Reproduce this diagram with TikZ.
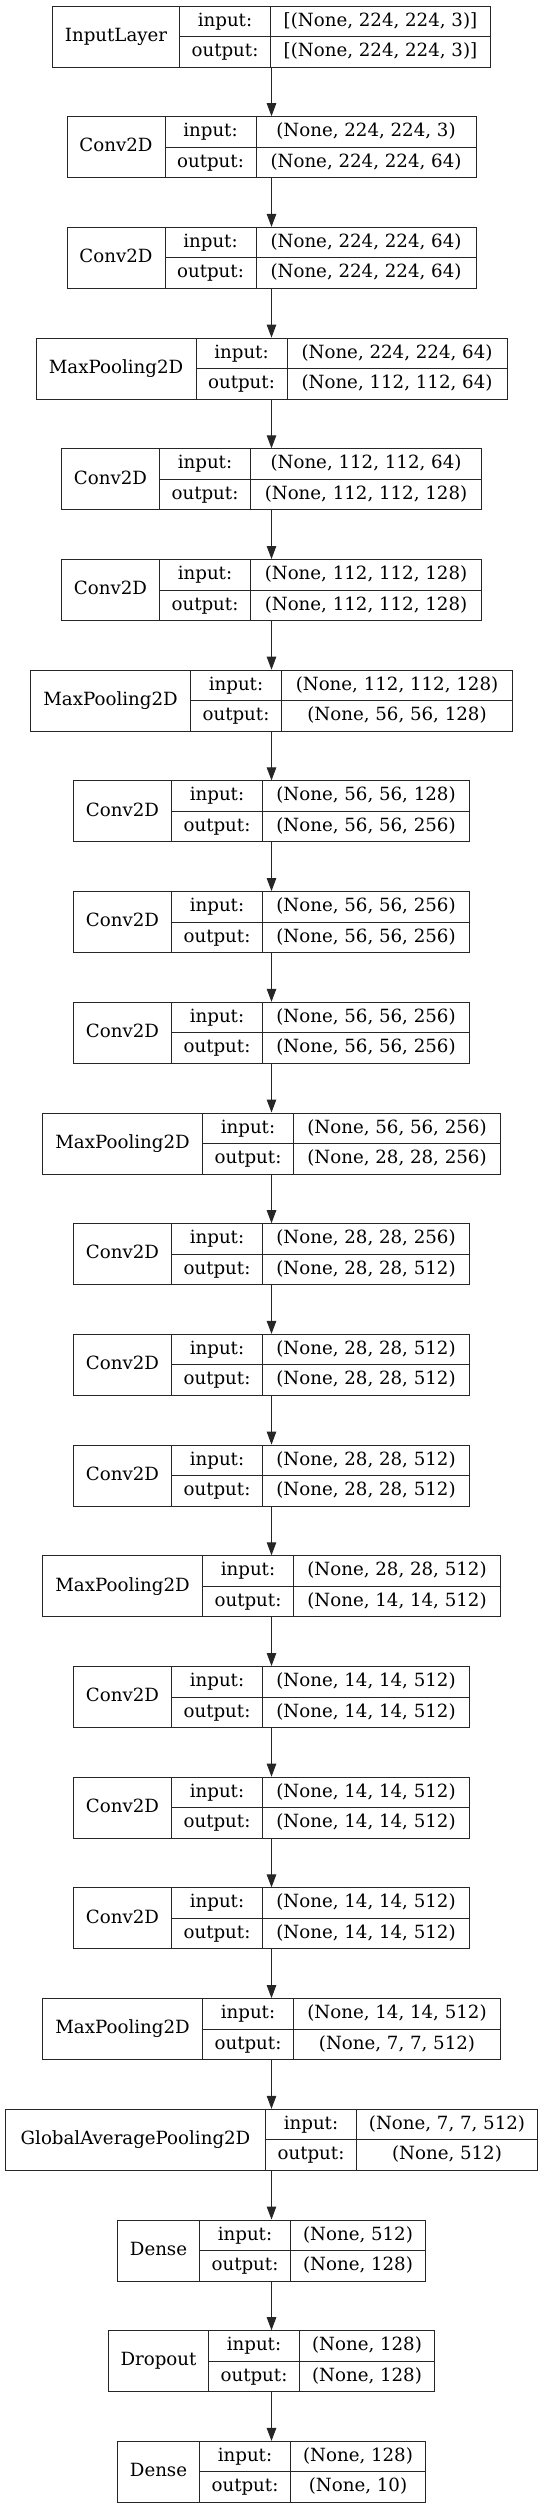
\documentclass[tikz,border=0pt]{standalone}
\usepackage{fontspec}
\usetikzlibrary{arrows.meta}
\newfontfamily\lyrfont{DejaVu Serif}
\tikzset{
  lbox/.style={draw=black!85, line width=1pt, inner sep=0pt, rectangle},
  cellline/.style={draw=black!85, line width=1pt},
  txt/.style={font={\lyrfont\fontsize{18.2}{22}\selectfont}, inner sep=0pt, text height=13.5pt, text depth=4pt},
  arr/.style={draw=black!85, line width=1pt, -{Triangle[length=13pt,width=9.5pt]}}
}
\newcommand{\layerbox}[9]{%
  \pgfmathsetmacro{\yt}{-(6+110.7*#2)}%
  \pgfmathsetmacro{\yb}{\yt-61}%
  \pgfmathsetmacro{\ym}{\yt-30.5}%
  \pgfmathsetmacro{\bw}{#6-#3}%
  \node[lbox, minimum width=\bw pt, minimum height=61pt] (#1) at ({(#3+#6)/2},\ym) {};
  \draw[cellline] (#4,\yt) -- (#4,\yb);
  \draw[cellline] (#5,\yt) -- (#5,\yb);
  \draw[cellline] (#4,\ym) -- (#6,\ym);
  \node[txt] (#1-lab) at ({(#3+#4)/2},\ym) {#7};
  \node[txt] (#1-il) at ({(#4+#5)/2},\yt-15.25) {input:};
  \node[txt] (#1-ol) at ({(#4+#5)/2},\yb+15.25) {output:};
  \node[txt] (#1-iv) at ({(#5+#6)/2},\yt-15.25) {#8};
  \node[txt] (#1-ov) at ({(#5+#6)/2},\yb+15.25) {#9};
}
\begin{document}
\begin{tikzpicture}[x=1pt,y=1pt]
\useasboundingbox (0,0) rectangle (543,-2508);
\layerbox{b0}{0}{52.5}{179.5}{270.5}{490.5}{InputLayer}{[(None, 224, 224, 3)]}{[(None, 224, 224, 3)]}
\layerbox{b1}{1}{67}{165}{256}{476}{Conv2D}{(None, 224, 224, 3)}{(None, 224, 224, 64)}
\layerbox{b2}{2}{67}{165}{256}{476}{Conv2D}{(None, 224, 224, 64)}{(None, 224, 224, 64)}
\layerbox{b3}{3}{36}{196}{287}{507}{MaxPooling2D}{(None, 224, 224, 64)}{(None, 112, 112, 64)}
\layerbox{b4}{4}{61.5}{159.5}{250.5}{481.5}{Conv2D}{(None, 112, 112, 64)}{(None, 112, 112, 128)}
\layerbox{b5}{5}{61.5}{159.5}{250.5}{481.5}{Conv2D}{(None, 112, 112, 128)}{(None, 112, 112, 128)}
\layerbox{b6}{6}{30.5}{190.5}{281.5}{512.5}{MaxPooling2D}{(None, 112, 112, 128)}{(None, 56, 56, 128)}
\layerbox{b7}{7}{73.5}{171.5}{262.5}{469.5}{Conv2D}{(None, 56, 56, 128)}{(None, 56, 56, 256)}
\layerbox{b8}{8}{73.5}{171.5}{262.5}{469.5}{Conv2D}{(None, 56, 56, 256)}{(None, 56, 56, 256)}
\layerbox{b9}{9}{73.5}{171.5}{262.5}{469.5}{Conv2D}{(None, 56, 56, 256)}{(None, 56, 56, 256)}
\layerbox{b10}{10}{42.5}{202.5}{293.5}{500.5}{MaxPooling2D}{(None, 56, 56, 256)}{(None, 28, 28, 256)}
\layerbox{b11}{11}{73.5}{171.5}{262.5}{469.5}{Conv2D}{(None, 28, 28, 256)}{(None, 28, 28, 512)}
\layerbox{b12}{12}{73.5}{171.5}{262.5}{469.5}{Conv2D}{(None, 28, 28, 512)}{(None, 28, 28, 512)}
\layerbox{b13}{13}{73.5}{171.5}{262.5}{469.5}{Conv2D}{(None, 28, 28, 512)}{(None, 28, 28, 512)}
\layerbox{b14}{14}{42.5}{202.5}{293.5}{500.5}{MaxPooling2D}{(None, 28, 28, 512)}{(None, 14, 14, 512)}
\layerbox{b15}{15}{73.5}{171.5}{262.5}{469.5}{Conv2D}{(None, 14, 14, 512)}{(None, 14, 14, 512)}
\layerbox{b16}{16}{73.5}{171.5}{262.5}{469.5}{Conv2D}{(None, 14, 14, 512)}{(None, 14, 14, 512)}
\layerbox{b17}{17}{73.5}{171.5}{262.5}{469.5}{Conv2D}{(None, 14, 14, 512)}{(None, 14, 14, 512)}
\layerbox{b18}{18}{42.5}{202.5}{293.5}{500.5}{MaxPooling2D}{(None, 14, 14, 512)}{(None, 7, 7, 512)}
\layerbox{b19}{19}{5.5}{265.5}{356.5}{537.5}{GlobalAveragePooling2D}{(None, 7, 7, 512)}{(None, 512)}
\layerbox{b20}{20}{117.5}{199.5}{290.5}{425.5}{Dense}{(None, 512)}{(None, 128)}
\layerbox{b21}{21}{108.5}{208.5}{299.5}{434.5}{Dropout}{(None, 128)}{(None, 128)}
\layerbox{b22}{22}{117.5}{199.5}{290.5}{425.5}{Dense}{(None, 128)}{(None, 10)}
\foreach \i in {0,...,21}{
  \pgfmathtruncatemacro{\j}{\i+1}
  \draw[arr] (b\i.south) -- (b\j.north);
}
\end{tikzpicture}
\end{document}
